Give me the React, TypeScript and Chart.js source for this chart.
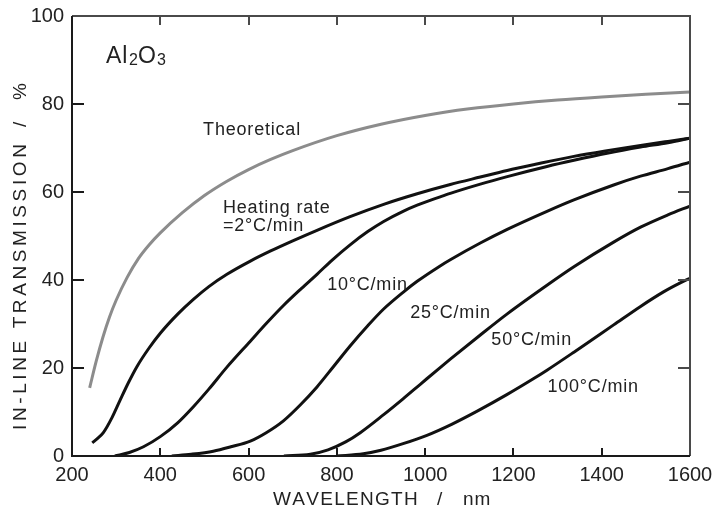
import React, { useEffect, useRef } from "react";
import { Chart, registerables } from "chart.js";

Chart.register(...registerables);

// ---- Data (wavelength nm / in-line transmission %) ----
const theoX = [240, 255, 270, 285, 300, 325, 350, 375, 400, 450, 500, 550, 600, 650, 700, 800, 900, 1000, 1100, 1200, 1300, 1400, 1500, 1600];
const theoY = [15.5, 21.6, 27, 31.6, 35.4, 40.6, 44.8, 48, 50.7, 55.3, 59.2, 62.4, 65.1, 67.4, 69.4, 72.8, 75.4, 77.4, 78.9, 80, 80.9, 81.6, 82.2, 82.7];

const rate2X = [246, 258, 271, 290, 309, 328, 347, 375, 400, 440, 475, 510, 551, 604, 650, 700, 755, 830, 906, 982, 1057, 1125, 1186, 1250, 1337, 1412, 1488, 1550, 1600];
const rate2Y = [3, 4, 5.3, 8.6, 12.7, 16.7, 20.3, 24.6, 27.9, 32.3, 35.6, 38.5, 41.3, 44.3, 46.6, 48.9, 51.3, 54.4, 57.2, 59.6, 61.7, 63.4, 64.9, 66.3, 68.1, 69.4, 70.6, 71.5, 72.2];

const rate10X = [297, 330, 362, 400, 440, 475, 510, 551, 604, 640, 679, 720, 755, 790, 830, 870, 906, 950, 982, 1034, 1057, 1125, 1186, 1276, 1337, 1412, 1488, 1550, 1600];
const rate10Y = [0, 0.8, 2.1, 4.4, 7.6, 11.2, 15.2, 20.2, 26.1, 30.1, 34.2, 38.1, 41.3, 44.6, 48, 51, 53.3, 55.6, 57, 58.9, 59.7, 61.8, 63.5, 65.8, 67.2, 68.8, 70.2, 71.2, 72.2];

const rate25X = [426, 470, 520, 560, 604, 640, 679, 717, 755, 793, 830, 870, 906, 950, 982, 1034, 1057, 1125, 1186, 1276, 1337, 1427, 1488, 1550, 1600];
const rate25Y = [0, 0.4, 1.1, 2.1, 3.4, 5.3, 8, 11.6, 15.7, 20.4, 25, 29.6, 33.4, 37.2, 39.7, 43.2, 44.6, 48.4, 51.5, 55.6, 58.2, 61.6, 63.6, 65.3, 66.8];

const rate50X = [680, 740, 780, 820, 853, 906, 950, 989, 1034, 1057, 1125, 1186, 1276, 1337, 1427, 1488, 1550, 1600];
const rate50Y = [0, 0.4, 1.4, 3.2, 5.3, 9.4, 13, 16.3, 20.1, 22, 27.5, 32.3, 38.8, 43, 48.6, 52, 54.8, 56.8];

const rate100X = [800, 860, 900, 950, 1004, 1060, 1118, 1186, 1246, 1276, 1337, 1427, 1488, 1540, 1579, 1600];
const rate100Y = [0, 0.5, 1.3, 2.8, 4.7, 7.2, 10.2, 14, 17.6, 19.5, 23.6, 29.8, 34, 37.3, 39.4, 40.4];

const xTicks = [200, 400, 600, 800, 1000, 1200, 1400, 1600];
const yTicks = [0, 20, 40, 60, 80, 100];

// Curve annotations: [text, x (nm), y (%)] anchored at left/baseline
const curveLabels: [string, number, number][] = [
  ["Theoretical", 497, 73],
  ["Heating rate", 542, 55.2],
  ["=2\u00B0C/min", 542, 51.1],
  ["10\u00B0C/min", 778, 37.7],
  ["25\u00B0C/min", 966, 31.4],
  ["50\u00B0C/min", 1150, 25.2],
  ["100\u00B0C/min", 1277, 14.5],
];
const formulaPos: [number, number] = [277, 89.3];

const FONT = '"Liberation Sans", Arial, Helvetica, sans-serif';

function pts(xs: number[], ys: number[]) {
  return xs.map((x, i) => ({ x, y: ys[i] }));
}

function drawSpaced(ctx: CanvasRenderingContext2D, text: string, x: number, y: number, ls: number) {
  let cx = x;
  for (const ch of text) {
    ctx.fillText(ch, cx, y);
    cx += ctx.measureText(ch).width + ls;
  }
  return cx;
}

const overlay = {
  id: "overlay",
  afterDraw(chart: any) {
    const { ctx, chartArea: a, scales } = chart;
    const xs = scales.x;
    const ys = scales.y;
    ctx.save();
    // frame
    ctx.lineWidth = 2;
    ctx.strokeStyle = "#4a4a4a";
    ctx.beginPath();
    ctx.moveTo(a.left, a.top);
    ctx.lineTo(a.right, a.top);
    ctx.lineTo(a.right, a.bottom);
    ctx.stroke();
    ctx.strokeStyle = "#1a1a1a";
    ctx.beginPath();
    ctx.moveTo(a.left, a.top);
    ctx.lineTo(a.left, a.bottom);
    ctx.lineTo(a.right, a.bottom);
    ctx.stroke();
    // inward ticks
    ctx.lineWidth = 2;
    for (const t of xTicks.slice(1, -1)) {
      const px = Math.round(xs.getPixelForValue(t));
      ctx.strokeStyle = "#1a1a1a";
      ctx.beginPath();
      ctx.moveTo(px, a.bottom);
      ctx.lineTo(px, a.bottom - 8);
      ctx.stroke();
      ctx.strokeStyle = "#4a4a4a";
      ctx.beginPath();
      ctx.moveTo(px, a.top);
      ctx.lineTo(px, a.top + 9);
      ctx.stroke();
    }
    for (const t of yTicks.slice(1, -1)) {
      const py = Math.round(ys.getPixelForValue(t));
      ctx.strokeStyle = "#1a1a1a";
      ctx.beginPath();
      ctx.moveTo(a.left, py);
      ctx.lineTo(a.left + 12, py);
      ctx.stroke();
      ctx.strokeStyle = "#4a4a4a";
      ctx.beginPath();
      ctx.moveTo(a.right, py);
      ctx.lineTo(a.right - 12, py);
      ctx.stroke();
    }

    ctx.fillStyle = "#222";
    ctx.textBaseline = "alphabetic";
    ctx.textAlign = "left";

    // formula Al2O3
    {
      const fx = xs.getPixelForValue(formulaPos[0]);
      const fy = ys.getPixelForValue(formulaPos[1]);
      ctx.font = `23px ${FONT}`;
      drawSpaced(ctx, "Al", fx, fy, 1);
      ctx.font = `16px ${FONT}`;
      drawSpaced(ctx, "2", fx + 23, fy + 2, 0);
      ctx.font = `23px ${FONT}`;
      drawSpaced(ctx, "O", fx + 32, fy, 0);
      ctx.font = `16px ${FONT}`;
      drawSpaced(ctx, "3", fx + 51, fy + 2, 0);
    }

    // curve labels
    ctx.font = `18px ${FONT}`;
    for (const [txt, lx, ly] of curveLabels) {
      drawSpaced(ctx, txt, xs.getPixelForValue(lx), ys.getPixelForValue(ly), 0.8);
    }

    // x axis title
    ctx.font = `19px ${FONT}`;
    const xc = (a.left + a.right) / 2;
    const xty = a.bottom + 49;
    drawSpaced(ctx, "WAVELENGTH", xc - 108, xty, 1.3);
    drawSpaced(ctx, "/", xc + 56, xty, 0);
    drawSpaced(ctx, "nm", xc + 82, xty, 1);

    // y axis title (rotated)
    ctx.save();
    ctx.translate(a.left - 46, a.bottom - 26);
    ctx.rotate(-Math.PI / 2);
    ctx.font = `19px ${FONT}`;
    drawSpaced(ctx, "IN-LINE TRANSMISSION", 0, 0, 3.6);
    drawSpaced(ctx, "/", 303, 0, 0);
    drawSpaced(ctx, "%", 330, 0, 0);
    ctx.restore();

    ctx.restore();
  },
};

export default function App() {
  const ref = useRef<HTMLCanvasElement | null>(null);

  useEffect(() => {
    if (!ref.current) return;
    const black = "#111";
    const mk = (data: { x: number; y: number }[], color: string) => ({
      data,
      borderColor: color,
      backgroundColor: color,
      borderWidth: 3,
      pointRadius: 0,
      fill: false,
      cubicInterpolationMode: "monotone" as const,
    });
    const zeroPad = (s: any) => {
      s.paddingTop = 0;
      s.paddingBottom = 0;
      s.paddingLeft = 0;
      s.paddingRight = 0;
    };
    const chart = new Chart(ref.current, {
      type: "line",
      data: {
        datasets: [
          mk(pts(theoX, theoY), "#8c8c8c"),
          mk(pts(rate2X, rate2Y), black),
          mk(pts(rate10X, rate10Y), black),
          mk(pts(rate25X, rate25Y), black),
          mk(pts(rate50X, rate50Y), black),
          mk(pts(rate100X, rate100Y), black),
        ],
      },
      options: {
        responsive: false,
        animation: false,
        layout: { padding: { top: 16, right: 28, left: 0, bottom: 0 } },
        plugins: { legend: { display: false }, tooltip: { enabled: false } },
        scales: {
          x: {
            type: "linear",
            min: 200,
            max: 1600,
            afterFit: (s: any) => {
              s.height = 54;
              zeroPad(s);
            },
            afterBuildTicks: (s: any) => {
              s.ticks = xTicks.map((v) => ({ value: v }));
            },
            grid: { display: false, drawTicks: false },
            border: { display: false },
            ticks: {
              padding: 7,
              color: "#222",
              maxRotation: 0,
              autoSkip: false,
              font: { family: FONT, size: 20 },
              callback: (v: any) => String(v),
            },
          },
          y: {
            type: "linear",
            min: 0,
            max: 100,
            afterFit: (s: any) => {
              s.width = 72;
              zeroPad(s);
            },
            afterBuildTicks: (s: any) => {
              s.ticks = yTicks.map((v) => ({ value: v }));
            },
            grid: { display: false, drawTicks: false },
            border: { display: false },
            ticks: {
              padding: 8,
              color: "#222",
              font: { family: FONT, size: 20 },
              callback: (v: any) => String(v),
            },
          },
        },
      },
      plugins: [overlay],
    });
    return () => chart.destroy();
  }, []);

  return (
    <div style={{ position: "fixed", left: 0, top: 0, width: 718, height: 510, background: "#fff" }}>
      <canvas ref={ref} width={718} height={510} style={{ width: 718, height: 510, display: "block" }} />
    </div>
  );
}
